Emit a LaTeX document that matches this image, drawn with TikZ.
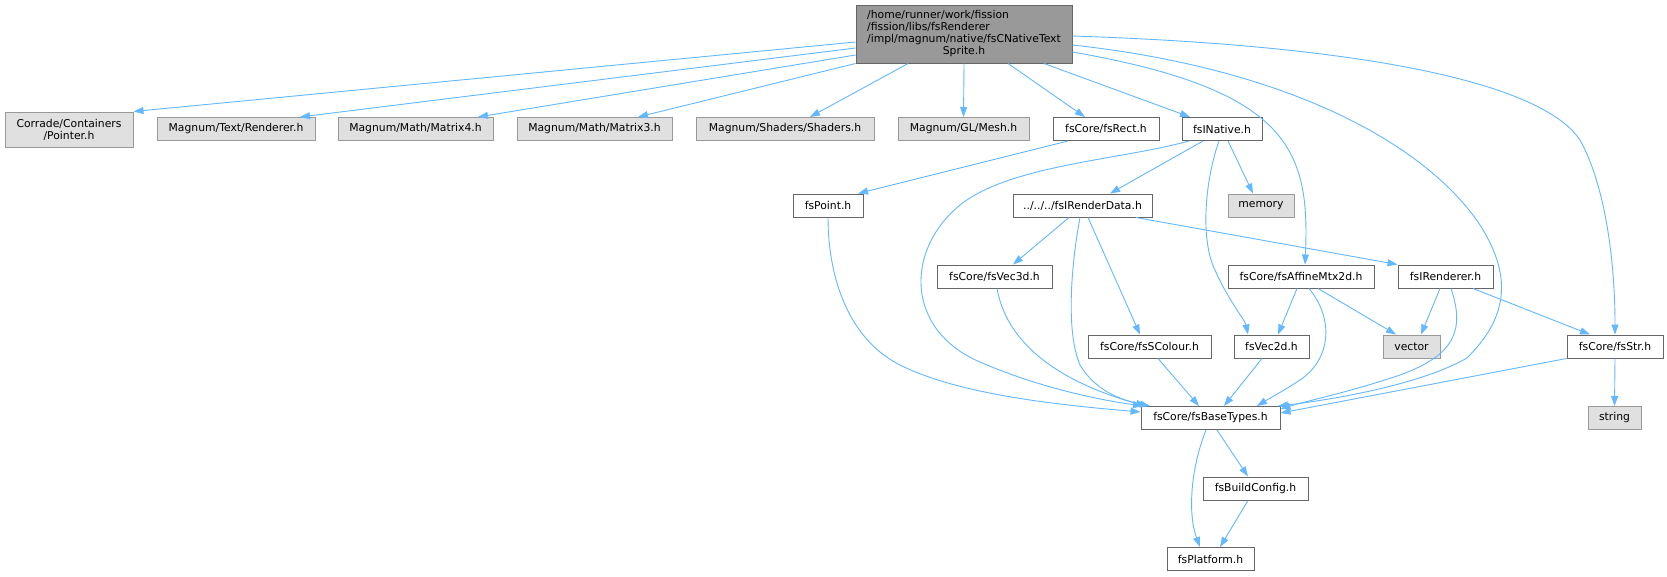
\documentclass[tikz,border=0pt]{standalone}
\usepackage{fontspec}
\setmainfont{DejaVu Sans}
\usetikzlibrary{arrows.meta}
\definecolor{edgec}{HTML}{63B8FF}
\definecolor{mainfill}{HTML}{999999}
\definecolor{darkb}{HTML}{666666}
\definecolor{extfill}{HTML}{E0E0E0}
\definecolor{extb}{HTML}{999999}
\tikzset{
  box/.style={rectangle, inner sep=0pt, minimum height=23pt, line width=1pt,
    font=\fontsize{10.8}{12.2}\selectfont},
  wbox/.style={box, draw=darkb, fill=white},
  gbox/.style={box, draw=extb, fill=extfill},
  mbox/.style={box, draw=darkb, fill=mainfill},
  edge/.style={draw=edgec, line width=0.9pt, -{Triangle[length=10pt,width=7pt]}, fill=none},
}
\begin{document}
\begin{tikzpicture}[x=1pt,y=-1pt]
\useasboundingbox[fill=white] (0,0) rectangle (1667,576);
% nodes
\node[mbox, minimum width=216pt, minimum height=58pt] (main) at (964,34)
  {\begin{tabular}{@{}l@{}}/home/runner/work/fission\\/fission/libs/fsRenderer\\/impl/magnum/native/fsCNativeText\\\multicolumn{1}{@{}c@{}}{Sprite.h}\end{tabular}};
\node[gbox, minimum width=128pt, minimum height=35pt, align=center] (corrade) at (69,129.5) {Corrade/Containers\\/Pointer.h};
\node[gbox, minimum width=158pt] (textr) at (236,129) {Magnum/Text/Renderer.h};
\node[gbox, minimum width=155pt] (m4) at (415.5,129) {Magnum/Math/Matrix4.h};
\node[gbox, minimum width=155pt] (m3) at (594.5,129) {Magnum/Math/Matrix3.h};
\node[gbox, minimum width=178pt] (shaders) at (785,129) {Magnum/Shaders/Shaders.h};
\node[gbox, minimum width=131pt] (mesh) at (963.5,129) {Magnum/GL/Mesh.h};
\node[wbox, minimum width=106pt] (rect) at (1106,129) {fsCore/fsRect.h};
\node[wbox, minimum width=80pt] (inative) at (1222,129) {fsINative.h};
\node[wbox, minimum width=70pt] (point) at (828,205.5) {fsPoint.h};
\node[wbox, minimum width=139pt] (rdata) at (1082.5,205.5) {../../../fsIRenderData.h};
\node[gbox, minimum width=66pt] (memory) at (1261,205.5) {memory};
\node[wbox, minimum width=115pt] (vec3d) at (994.5,276.5) {fsCore/fsVec3d.h};
\node[wbox, minimum width=146pt] (affine) at (1301,276.5) {fsCore/fsAffineMtx2d.h};
\node[wbox, minimum width=95pt] (irenderer) at (1445.5,276.5) {fsIRenderer.h};
\node[wbox, minimum width=123pt] (scolour) at (1149.5,346.5) {fsCore/fsSColour.h};
\node[wbox, minimum width=75pt] (vec2d) at (1271.5,346.5) {fsVec2d.h};
\node[gbox, minimum width=57pt] (vector) at (1411.5,346.5) {vector};
\node[wbox, minimum width=96pt] (fsstr) at (1615,346.5) {fsCore/fsStr.h};
\node[wbox, minimum width=139pt] (basetypes) at (1210.5,418) {fsCore/fsBaseTypes.h};
\node[gbox, minimum width=53pt] (string) at (1614.5,418) {string};
\node[wbox, minimum width=105pt] (buildcfg) at (1255.5,488.5) {fsBuildConfig.h};
\node[wbox, minimum width=87pt] (platform) at (1210.5,559) {fsPlatform.h};
% edges from main
\draw[edge] (main.west |- 0,42) -- (corrade.north east);
\draw[edge] (main.west |- 0,48) -- (textr.north -| 300,0);
\draw[edge] (main.west |- 0,55) -- (m4.north -| 478,0);
\draw[edge] (main.south west) -- (m3.north -| 638,0);
\draw[edge] (main.south -| 908,0) -- (shaders.north -| 810,0);
\draw[edge] (main.south) -- (mesh.north);
\draw[edge] (main.south -| 1008,0) -- (rect.north -| 1085,0);
\draw[edge] (main.south -| 1044,0) -- (inative.north -| 1190,0);
\draw[edge] (main.east |- 0,52) .. controls (1290,90) and (1310,150) .. (affine.north -| 1305,0);
\draw[edge] (main.east |- 0,45) .. controls (1300,70) and (1430,150) .. (1480,225)
  .. controls (1515,280) and (1505,320) .. (1467,358)
  .. controls (1420,385) and (1330,400) .. (basetypes.north -| 1278,0);
\draw[edge] (main.east |- 0,36) .. controls (1350,45) and (1540,80) .. (1580,140)
  .. controls (1605,185) and (1615,260) .. (fsstr.north);
% other edges
\draw[edge] (rect.south -| 1068,0) -- (point.north -| 858,0);
\draw[edge] (inative.south -| 1203,0) -- (rdata.north -| 1110,0);
\draw[edge] (inative.south -| 1228,0) -- (memory.north -| 1253,0);
\draw[edge] (inative.south -| 1219,0) .. controls (1205,180) and (1200,240) .. (1215,270)
  .. controls (1228,300) and (1245,320) .. (vec2d.north -| 1248,0);
\draw[edge] (inative.south -| 1189,0) .. controls (1120,160) and (1010,165) .. (960,205)
  .. controls (905,250) and (905,330) .. (980,362)
  .. controls (1040,388) and (1100,400) .. (basetypes.north -| 1143,0);
\draw[edge] (point.south) .. controls (828,280) and (850,340) .. (900,365)
  .. controls (960,395) and (1060,405) .. (basetypes.west |- 0,412);
\draw[edge] (rdata.south -| 1069,0) -- (vec3d.north -| 1013,0);
\draw[edge] (rdata.south -| 1088,0) -- (scolour.north -| 1140,0);
\draw[edge] (rdata.south -| 1136,0) -- (irenderer.north west);
\draw[edge] (rdata.south -| 1080,0) .. controls (1072,260) and (1065,330) .. (1080,365)
  .. controls (1095,390) and (1120,400) .. (basetypes.north -| 1150,0);
\draw[edge] (vec3d.south -| 997,0) .. controls (1008,350) and (1070,385) .. (basetypes.north -| 1146,0);
\draw[edge] (scolour.south -| 1158,0) -- (basetypes.north -| 1199,0);
\draw[edge] (vec2d.south -| 1262,0) -- (basetypes.north -| 1224,0);
\draw[edge] (affine.south -| 1297,0) -- (vec2d.north -| 1278,0);
\draw[edge] (affine.south -| 1318,0) -- (vector.north -| 1396,0);
\draw[edge] (affine.south -| 1309,0) .. controls (1335,320) and (1330,360) .. (1300,380)
  .. controls (1285,390) and (1270,398) .. (basetypes.north -| 1257,0);
\draw[edge] (irenderer.south -| 1440,0) -- (vector.north -| 1421,0);
\draw[edge] (irenderer.south -| 1473,0) -- (fsstr.north -| 1590,0);
\draw[edge] (irenderer.south -| 1451,0) .. controls (1465,330) and (1455,355) .. (1400,375)
  .. controls (1350,392) and (1310,400) .. (basetypes.east |- 0,409);
\draw[edge] (fsstr.south west) -- (basetypes.east |- 0,413);
\draw[edge] (fsstr.south) -- (string.north);
\draw[edge] (basetypes.south -| 1206,0) .. controls (1190,470) and (1188,515) .. (platform.north -| 1200,0);
\draw[edge] (basetypes.south -| 1217,0) -- (buildcfg.north -| 1248,0);
\draw[edge] (buildcfg.south -| 1248,0) -- (platform.north -| 1220,0);
\end{tikzpicture}
\end{document}
